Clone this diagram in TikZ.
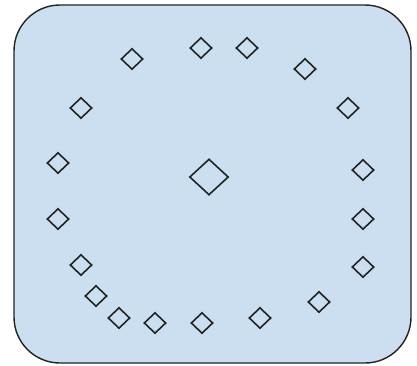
\documentclass[tikz,border=0pt]{standalone}
\usetikzlibrary{shapes.geometric}
\definecolor{panelfill}{RGB}{204,223,240}
\definecolor{inkc}{RGB}{35,35,35}
\tikzset{
  panel/.style={draw=inkc, line width=1.4pt, fill=panelfill, rounded corners=46pt},
  dm/.style={diamond, draw=inkc, line width=1.6pt, inner sep=0pt, minimum width=22pt, minimum height=21pt},
  dmbig/.style={dm, minimum width=39pt, minimum height=36pt}
}
\begin{document}
\begin{tikzpicture}[x=1pt,y=-1pt]
\useasboundingbox (0,0) rectangle (417,365);
\draw[panel] (14,5) rectangle (411,363);
\node[dm] (d1) at (132,59) {};
\node[dm] (d2) at (201,48) {};
\node[dm] (d3) at (247,48) {};
\node[dm] (d4) at (305,69) {};
\node[dm] (d5) at (348,108) {};
\node[dm] (d6) at (81,108) {};
\node[dm] (d7) at (58,163) {};
\node[dm] (d8) at (363,170) {};
\node[dmbig] (c) at (209,177) {};
\node[dm] (d10) at (58,219) {};
\node[dm] (d11) at (363,219) {};
\node[dm] (d12) at (81,265) {};
\node[dm] (d13) at (363,267) {};
\node[dm] (d14) at (96,296) {};
\node[dm] (d15) at (319,302) {};
\node[dm] (d16) at (119,318) {};
\node[dm] (d17) at (260,318) {};
\node[dm] (d18) at (155,323) {};
\node[dm] (d19) at (202,323) {};
\end{tikzpicture}
\end{document}
